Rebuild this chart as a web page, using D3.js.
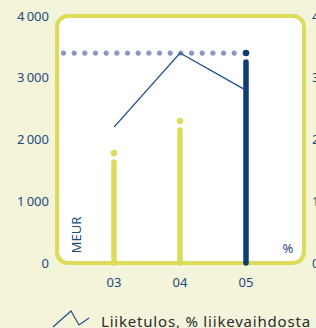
<!DOCTYPE html>
<html>
<head>
<meta charset="utf-8">
<script src="https://cdn.jsdelivr.net/npm/d3@7"></script>
<style>
  html, body { margin: 0; padding: 0; background: #f3f4da; }
  svg { display: block; font-family: 'Noto Sans', sans-serif; }
</style>
</head>
<body>
<div id="chart"></div>
<script>
// Data
const years = ['03', '04', '05'];
const revenue = [1780, 2300, 3400];          // MEUR, left axis
const profitPct = [22.0, 34.0, 28.2];        // Liiketulos, % liikevaihdosta, right axis
const leftTicks = [0, 1000, 2000, 3000, 4000];
const rightTicks = [0, 10, 20, 30, 40];
const legendLabel = 'Liiketulos, % liikevaihdosta';

const width = 316, height = 328;
const yellow = '#dcdc5a';
const navy = '#0d3d72';
const textBlue = '#1c4a7e';

const svg = d3.select('#chart').append('svg')
    .attr('width', width)
    .attr('height', height);

// Panel bounds (stroke centre)
const panel = { left: 57, top: 16, right: 304, bottom: 263 };

const y = d3.scaleLinear().domain([0, 4000]).range([panel.bottom, panel.top]);
const yPct = d3.scaleLinear().domain([0, 40]).range([panel.bottom, panel.top]);
const x = d3.scalePoint().domain(years).range([114, 246]);

// Panel background + border
svg.append('rect')
    .attr('x', panel.left)
    .attr('y', panel.top)
    .attr('width', panel.right - panel.left)
    .attr('height', panel.bottom - panel.top)
    .attr('rx', 11)
    .attr('fill', '#ffffff')
    .attr('stroke', yellow)
    .attr('stroke-width', 4);

// Left axis labels
svg.append('g').selectAll('text')
    .data(leftTicks)
    .join('text')
    .attr('x', 49)
    .attr('y', d => y(d))
    .attr('dy', '0.36em')
    .attr('text-anchor', 'end')
    .attr('font-size', '13px')
    .attr('fill', textBlue)
    .text(d => d3.format(',')(d).replace(',', '\u2009'));

// Right axis labels (cut off by window edge, as in the original)
svg.append('g').selectAll('text')
    .data(rightTicks)
    .join('text')
    .attr('x', 312)
    .attr('y', d => yPct(d))
    .attr('dy', '0.36em')
    .attr('font-size', '13px')
    .attr('fill', textBlue)
    .text(d => d);

// Dotted reference line at latest value
const last = revenue[revenue.length - 1];
const dotXs = d3.range(0, 17).map(i => 63.5 + i * 10.67).filter(v => v < x(years[2]) - 5);
svg.append('g').selectAll('circle')
    .data(dotXs)
    .join('circle')
    .attr('cx', d => d)
    .attr('cy', y(last))
    .attr('r', 2.6)
    .attr('fill', '#8c97c4');

// Bars (thick lines with a dot on top)
const gap = 7;
const bars = svg.append('g');
bars.selectAll('line')
    .data(revenue)
    .join('line')
    .attr('x1', (d, i) => x(years[i]))
    .attr('x2', (d, i) => x(years[i]))
    .attr('y1', y(0))
    .attr('y2', d => y(d) + gap + 2)
    .attr('stroke', (d, i) => i === revenue.length - 1 ? navy : yellow)
    .attr('stroke-width', 5.5)
    .attr('stroke-linecap', 'round');
bars.selectAll('circle')
    .data(revenue)
    .join('circle')
    .attr('cx', (d, i) => x(years[i]))
    .attr('cy', d => y(d))
    .attr('r', 3.3)
    .attr('fill', (d, i) => i === revenue.length - 1 ? navy : yellow);

// Profit % line
const line = d3.line()
    .x((d, i) => x(years[i]) - (i === profitPct.length - 1 ? 2.5 : 0))
    .y(d => yPct(d));
svg.append('path')
    .datum(profitPct)
    .attr('d', line)
    .attr('fill', 'none')
    .attr('stroke', '#1d4f8a')
    .attr('stroke-width', 1.3);

// Year labels
svg.append('g').selectAll('text')
    .data(years)
    .join('text')
    .attr('x', d => x(d))
    .attr('y', 287)
    .attr('text-anchor', 'middle')
    .attr('font-size', '13px')
    .attr('fill', textBlue)
    .text(d => d);

// Unit labels
svg.append('text')
    .attr('transform', 'translate(81,235) rotate(-90)')
    .attr('text-anchor', 'middle')
    .attr('font-size', '13px')
    .attr('fill', textBlue)
    .text('MEUR');
svg.append('text')
    .attr('x', 288)
    .attr('y', 253)
    .attr('text-anchor', 'middle')
    .attr('font-size', '13px')
    .attr('fill', textBlue)
    .text('%');

// Legend
svg.append('polyline')
    .attr('points', '53,327 71,311 79,325 89,318')
    .attr('fill', 'none')
    .attr('stroke', '#1d4f8a')
    .attr('stroke-width', 1.2);
svg.append('text')
    .attr('x', 101)
    .attr('y', 327)
    .attr('font-size', '15px')
    .attr('letter-spacing', '0.8px')
    .attr('fill', '#2b2b2b')
    .text(legendLabel);
</script>
</body>
</html>
